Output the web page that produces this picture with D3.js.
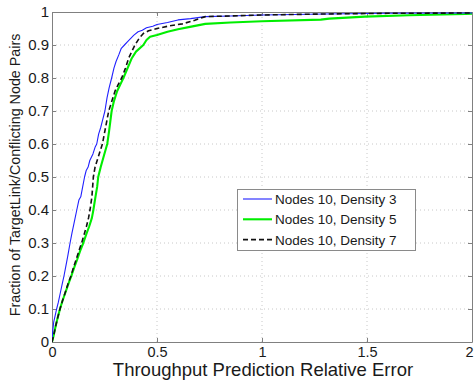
<!DOCTYPE html>
<html>
<head>
<meta charset="utf-8">
<script src="https://cdn.jsdelivr.net/npm/d3@7"></script>
<style>
  html, body { margin: 0; padding: 0; background: #fff; }
  svg { display: block; font-family: "Liberation Sans", Arial, sans-serif; }
</style>
</head>
<body>
<svg id="chart" width="474" height="382"></svg>
<script>
// Empirical CDFs of throughput prediction relative error, [error, fraction]
const density3 = [[0,0],[0.003,0.03],[0.008,0.06],[0.015,0.08],[0.022,0.1],[0.03,0.12],[0.04,0.15],[0.05,0.18],[0.057,0.2],[0.066,0.23],[0.075,0.26],[0.086,0.3],[0.095,0.33],[0.105,0.36],[0.118,0.4],[0.128,0.43],[0.137,0.44],[0.146,0.47],[0.155,0.5],[0.163,0.52],[0.172,0.53],[0.18,0.55],[0.195,0.57],[0.205,0.59],[0.213,0.6],[0.222,0.63],[0.232,0.65],[0.24,0.67],[0.252,0.7],[0.262,0.74],[0.272,0.77],[0.284,0.8],[0.295,0.83],[0.305,0.85],[0.318,0.87],[0.33,0.89],[0.345,0.9],[0.36,0.91],[0.375,0.92],[0.39,0.93],[0.41,0.94],[0.43,0.945],[0.45,0.952],[0.48,0.957],[0.5,0.962],[0.55,0.968],[0.6,0.976],[0.66,0.98],[0.73,0.986],[0.85,0.988],[1.0,0.991],[1.3,0.994],[1.6,0.996],[2,0.997]];

const density5 = [[0,0],[0.008,0.02],[0.018,0.05],[0.028,0.076],[0.038,0.1],[0.05,0.125],[0.064,0.15],[0.078,0.176],[0.092,0.2],[0.106,0.226],[0.12,0.25],[0.134,0.276],[0.149,0.3],[0.163,0.326],[0.177,0.35],[0.19,0.376],[0.197,0.4],[0.207,0.44],[0.215,0.47],[0.22,0.5],[0.232,0.53],[0.245,0.56],[0.263,0.6],[0.272,0.64],[0.284,0.7],[0.295,0.73],[0.31,0.76],[0.325,0.78],[0.34,0.8],[0.36,0.83],[0.38,0.86],[0.4,0.88],[0.435,0.9],[0.45,0.915],[0.467,0.925],[0.5,0.93],[0.55,0.94],[0.6,0.948],[0.657,0.955],[0.73,0.964],[0.85,0.968],[1.0,0.972],[1.28,0.977],[1.32,0.98],[1.49,0.986],[1.7,0.99],[1.97,0.994],[2,0.995]];

const density7 = [[0,0],[0.008,0.02],[0.018,0.05],[0.028,0.076],[0.038,0.1],[0.05,0.125],[0.063,0.15],[0.076,0.176],[0.09,0.2],[0.102,0.225],[0.115,0.25],[0.128,0.276],[0.141,0.3],[0.153,0.326],[0.164,0.35],[0.174,0.376],[0.181,0.4],[0.19,0.44],[0.197,0.5],[0.205,0.53],[0.22,0.56],[0.24,0.6],[0.255,0.65],[0.27,0.7],[0.285,0.73],[0.3,0.76],[0.315,0.78],[0.332,0.8],[0.35,0.83],[0.365,0.86],[0.38,0.88],[0.395,0.9],[0.415,0.92],[0.435,0.935],[0.46,0.943],[0.5,0.95],[0.56,0.958],[0.62,0.964],[0.68,0.975],[0.73,0.986],[0.85,0.988],[1.0,0.991],[1.3,0.994],[1.6,0.996],[2,0.997]];

const seriesNames = ["Nodes 10, Density 3", "Nodes 10, Density 5", "Nodes 10, Density 7"];
const xTicks = [0, 0.5, 1, 1.5, 2];
const xTickLabels = ["0", "0.5", "1", "1.5", "2"];
const yTicks = [0, 0.1, 0.2, 0.3, 0.4, 0.5, 0.6, 0.7, 0.8, 0.9, 1];
const yTickLabels = ["0", "0.1", "0.2", "0.3", "0.4", "0.5", "0.6", "0.7", "0.8", "0.9", "1"];

const margin = {left: 52, top: 12, right: 2, bottom: 40};
const W = 474, H = 382;
const svg = d3.select("#chart");
const iw = W - margin.left - margin.right;
const ih = H - margin.top - margin.bottom;

const x = d3.scaleLinear().domain([0, 2]).range([margin.left, margin.left + iw]);
const y = d3.scaleLinear().domain([0, 1]).range([margin.top + ih, margin.top]);

const axisColor = "#808080";
const textColor = "#1a1a1a";

// dotted grid
const grid = svg.append("g");
grid.selectAll("line.gx").data(xTicks.slice(1, -1)).join("line")
  .attr("x1", d => x(d)).attr("x2", d => x(d))
  .attr("y1", y(0)).attr("y2", y(1))
  .attr("stroke", "#c8c8c8").attr("stroke-width", 1).attr("stroke-dasharray", "1,3");
grid.selectAll("line.gy").data(yTicks.slice(1, -1)).join("line")
  .attr("x1", x(0)).attr("x2", x(2))
  .attr("y1", d => y(d)).attr("y2", d => y(d))
  .attr("stroke", "#c8c8c8").attr("stroke-width", 1).attr("stroke-dasharray", "1,3");

// axes with inward ticks
const xAxis = d3.axisBottom(x).tickValues(xTicks).tickFormat((d, i) => xTickLabels[i]).tickSizeInner(-4).tickSizeOuter(0).tickPadding(5);
const yAxis = d3.axisLeft(y).tickValues(yTicks).tickFormat((d, i) => yTickLabels[i]).tickSizeInner(-4).tickSizeOuter(0).tickPadding(3);
const xTop = d3.axisTop(x).tickValues(xTicks).tickFormat("").tickSizeInner(-4).tickSizeOuter(0);
const yRight = d3.axisRight(y).tickValues(yTicks).tickFormat("").tickSizeInner(-4).tickSizeOuter(0);

function styleAxis(g, size) {
  g.select(".domain").attr("stroke", axisColor);
  g.selectAll(".tick line").attr("stroke", axisColor);
  g.selectAll(".tick text").attr("fill", textColor).attr("font-size", size)
    .attr("font-family", "'Liberation Sans', Arial, sans-serif");
}
const gx = svg.append("g").attr("transform", `translate(0,${y(0)})`).call(xAxis).call(styleAxis, 14.5);
// keep the last label inside the canvas
gx.selectAll(".tick text").filter(d => d === 2).attr("dx", -3);
svg.append("g").attr("transform", `translate(${x(0)},0)`).call(yAxis).call(styleAxis, 15);
svg.append("g").attr("transform", `translate(0,${y(1)})`).call(xTop).call(styleAxis, 15);
svg.append("g").attr("transform", `translate(${x(2)},0)`).call(yRight).call(styleAxis, 15);

// curves
const line = d3.line().x(d => x(d[0])).y(d => y(d[1]));
svg.append("clipPath").attr("id", "plotclip").append("rect")
  .attr("x", x(0)).attr("y", y(1) - 2).attr("width", iw + 1).attr("height", ih + 4);
const curves = svg.append("g").attr("clip-path", "url(#plotclip)");
const styles = [
  {data: density5, color: "#00ee00", width: 2.1, dash: null},
  {data: density3, color: "#2020ff", width: 1.1, dash: null},
  {data: density7, color: "#111111", width: 1.6, dash: "5,3"}
];
styles.forEach(s => {
  curves.append("path").datum(s.data).attr("d", line)
    .attr("fill", "none").attr("stroke", s.color).attr("stroke-width", s.width)
    .attr("stroke-dasharray", s.dash).attr("stroke-linejoin", "round");
});

// axis titles
svg.append("text").attr("x", 263).attr("y", 376)
  .attr("text-anchor", "middle").attr("font-size", 18.5).attr("fill", textColor)
  .text("Throughput Prediction Relative Error");
svg.append("text").attr("transform", `translate(20,175) rotate(-90)`)
  .attr("text-anchor", "middle").attr("font-size", 14.3).attr("fill", textColor)
  .text("Fraction of TargetLink/Conflicting Node Pairs");

// legend
const legendItems = [
  {name: seriesNames[0], color: "#2020ff", width: 1.1, dash: null},
  {name: seriesNames[1], color: "#00ee00", width: 2.1, dash: null},
  {name: seriesNames[2], color: "#111111", width: 1.6, dash: "5,3"}
];
const lg = svg.append("g").attr("transform", "translate(237,189)");
lg.append("rect").attr("x", 0.5).attr("y", 0.5).attr("width", 178).attr("height", 61)
  .attr("fill", "#fff").attr("stroke", "#8a8a8a").attr("stroke-width", 1);
legendItems.forEach((it, i) => {
  const cy = 10 + i * 20.3;
  lg.append("line").attr("x1", 6).attr("x2", 35).attr("y1", cy).attr("y2", cy)
    .attr("stroke", it.color).attr("stroke-width", it.width).attr("stroke-dasharray", it.dash);
  lg.append("text").attr("x", 38).attr("y", cy + 5).attr("font-size", 13.5).attr("fill", textColor)
    .text(it.name);
});
</script>
</body>
</html>
